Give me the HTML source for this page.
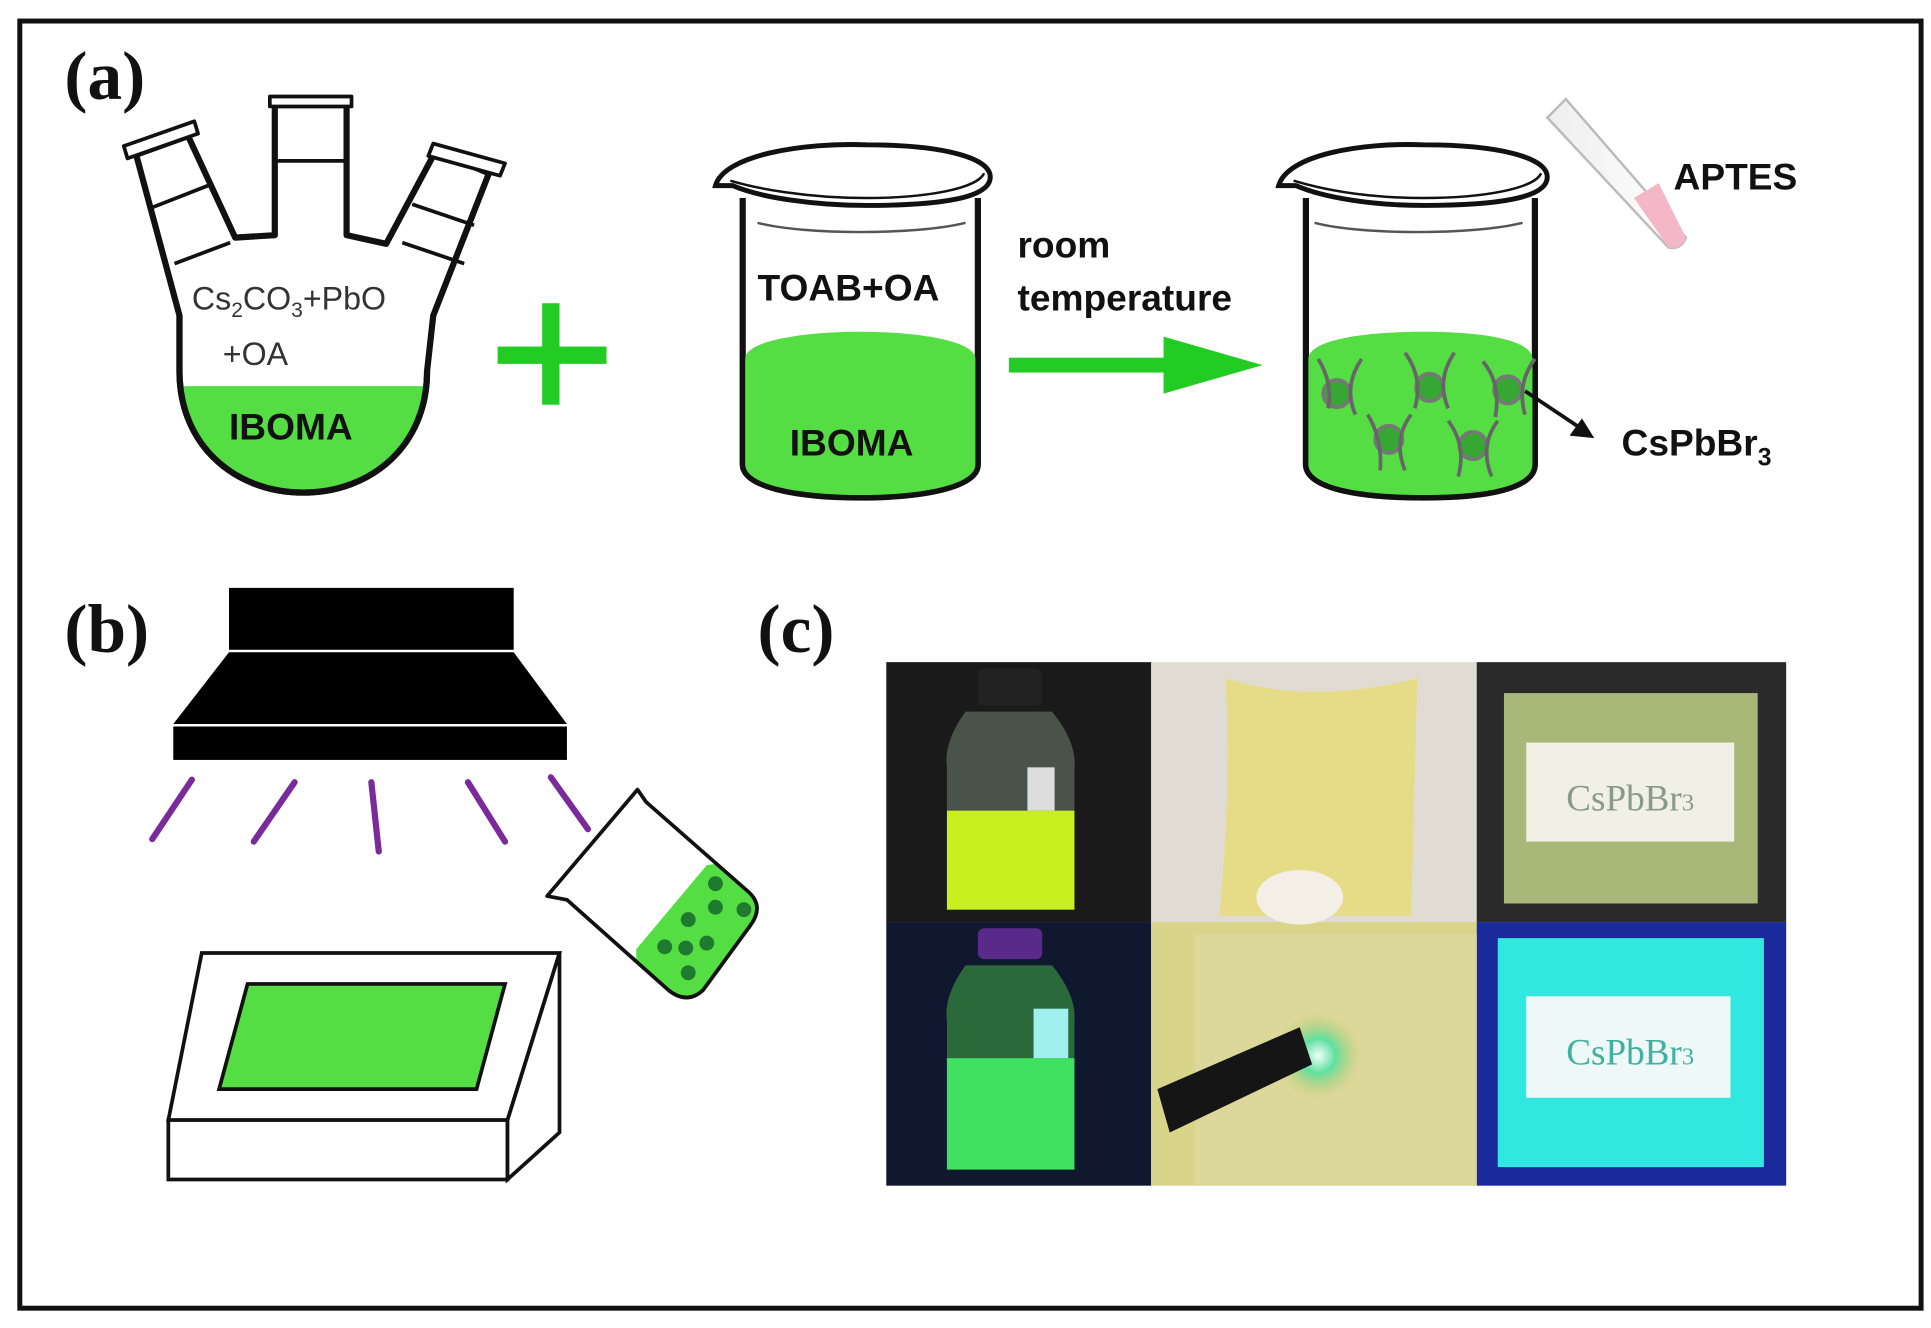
<!DOCTYPE html>
<html><head><meta charset="utf-8"><style>html,body{margin:0;padding:0;background:#fff}svg{display:block}</style></head>
<body>
<svg width="1931" height="1328" viewBox="0 0 1560 1073" preserveAspectRatio="none" xmlns="http://www.w3.org/2000/svg">
<defs>
<linearGradient id="tube" x1="0" y1="0" x2="1" y2="0"><stop offset="0" stop-color="#eee"/><stop offset="1" stop-color="#fff"/></linearGradient>
<radialGradient id="glow" cx="0.5" cy="0.5" r="0.5"><stop offset="0" stop-color="#f0fff8"/><stop offset="0.4" stop-color="#5fe0a0"/><stop offset="1" stop-color="#c8c868" stop-opacity="0"/></radialGradient>
<clipPath id="bk"><path d="M515,638 L442,724 L458,727 L540,800 Q555,812 568,800 L606,748 Q618,732 604,720 Z"/></clipPath>
</defs>
<rect x="0" y="0" width="1560" height="1073" fill="#fff"/>
<rect x="16" y="17" width="1536" height="1040" fill="none" stroke="#111" stroke-width="4"/>
<g font-family="Liberation Serif, serif" font-weight="bold" font-size="56" fill="#111">
<text x="52" y="80">(a)</text><text x="52" y="527">(b)</text><text x="612" y="527">(c)</text>
</g>
<!-- flask -->
<path d="M245,398 C190,398 145,360 145,300 L145,255 L110,125 L152,110 L190,192 L222,190 L222,85 L280,85 L280,190 L312,197 L352,122 L395,140 L350,255 L345,300 C345,360 300,398 245,398 Z" fill="#fff" stroke="#111" stroke-width="5" stroke-linejoin="round"/>
<path d="M148,312 L343,312 C343,365 300,396 245,396 C190,396 148,365 148,312 Z" fill="#55dd44"/>
<path d="M245,398 C190,398 145,360 145,300 L145,255 M345,300 C345,360 300,398 245,398" fill="none" stroke="#111" stroke-width="5"/>
<path d="M100,118 L157,98 L160,108 L103,128 Z M218,78 L284,78 L284,86 L218,86 Z M350,116 L408,132 L404,142 L346,126 Z" fill="#fff" stroke="#111" stroke-width="3" stroke-linejoin="round"/>
<path d="M222,130 L280,130 M122,168 L168,150 M333,165 L383,182 M141,213 L186,196 M325,196 L375,213" stroke="#111" stroke-width="3" fill="none"/>
<text x="155" y="250" font-family="Liberation Sans, sans-serif" font-size="26" fill="#333">Cs<tspan font-size="17" dy="6">2</tspan><tspan dy="-6">CO</tspan><tspan font-size="17" dy="6">3</tspan><tspan dy="-6">+PbO</tspan></text>
<text x="180" y="295" font-family="Liberation Sans, sans-serif" font-size="26" fill="#333">+OA</text>
<text x="185" y="355" font-family="Liberation Sans, sans-serif" font-weight="bold" font-size="30" fill="#111">IBOMA</text>
<!-- plus -->
<rect x="402" y="280" width="88" height="14" fill="#22cc22"/><rect x="438" y="245" width="14" height="82" fill="#22cc22"/>
<!-- beaker 1 -->
<path d="M600,160 L600,375 C600,395 650,402 695,402 C740,402 790,395 790,375 L790,160" fill="#fff" stroke="#111" stroke-width="5"/>
<path d="M602,290 C602,275 650,268 695,268 C740,268 788,275 788,290 L788,375 C788,393 740,400 695,400 C650,400 602,393 602,375 Z" fill="#55dd44"/>
<path d="M578,150 C585,125 650,115 700,117 C760,117 800,127 800,143 C800,160 760,166 700,166 C660,166 615,160 592,150 Q582,150 578,150 Z" fill="#fff" stroke="#111" stroke-width="4"/>
<path d="M590,146 C610,152 650,160 700,160 C750,160 790,152 795,140" stroke="#111" stroke-width="2" fill="none"/>
<path d="M612,180 C650,190 740,190 780,180" stroke="#555" stroke-width="2" fill="none"/>
<text x="612" y="243" font-family="Liberation Sans, sans-serif" font-weight="bold" font-size="30" fill="#111">TOAB+OA</text>
<text x="638" y="368" font-family="Liberation Sans, sans-serif" font-weight="bold" font-size="30" fill="#111">IBOMA</text>
<!-- arrow -->
<text x="822" y="208" font-family="Liberation Sans, sans-serif" font-weight="bold" font-size="30" fill="#111">room</text>
<text x="822" y="251" font-family="Liberation Sans, sans-serif" font-weight="bold" font-size="30" fill="#111">temperature</text>
<rect x="815" y="289" width="130" height="12" fill="#22cc22"/>
<polygon points="940,272 1020,295 940,318" fill="#22cc22"/>
<!-- beaker 2 -->
<path d="M1055,160 L1055,375 C1055,395 1100,402 1150,402 C1200,402 1240,395 1240,375 L1240,160" fill="#fff" stroke="#111" stroke-width="5"/>
<path d="M1057,290 C1057,275 1100,268 1150,268 C1200,268 1238,275 1238,290 L1238,375 C1238,393 1200,400 1150,400 C1100,400 1057,393 1057,375 Z" fill="#55dd44"/>
<path d="M1033,150 C1040,125 1100,115 1150,117 C1210,117 1250,127 1250,143 C1250,160 1210,166 1150,166 C1110,166 1070,160 1047,150 Q1037,150 1033,150 Z" fill="#fff" stroke="#111" stroke-width="4"/>
<path d="M1045,146 C1065,152 1100,160 1150,160 C1200,160 1240,152 1245,140" stroke="#111" stroke-width="2" fill="none"/>
<path d="M1062,180 C1100,190 1190,190 1230,180" stroke="#555" stroke-width="2" fill="none"/>
<g fill="#2e9a2e" stroke="#777" stroke-width="3" fill-opacity="0.8">
<circle cx="1080" cy="318" r="11"/><circle cx="1155" cy="313" r="11"/><circle cx="1218" cy="315" r="11"/><circle cx="1122" cy="355" r="11"/><circle cx="1190" cy="360" r="11"/>
</g>
<g fill="none" stroke="#666" stroke-width="3">
<path d="M1065,290 q12,20 8,40 M1100,290 q-15,22 -5,45 M1135,285 q15,20 8,45 M1175,285 q-15,22 -5,45 M1198,292 q15,18 10,45 M1240,290 q-15,20 -8,45 M1105,335 q12,20 10,45 M1140,335 q-15,20 -5,45 M1170,340 q15,20 8,45 M1210,340 q-15,20 -5,45"/>
</g>
<line x1="1232" y1="316" x2="1280" y2="348" stroke="#111" stroke-width="3"/>
<polygon points="1288,354 1268,352 1278,338" fill="#111"/>
<text x="1310" y="368" font-family="Liberation Sans, sans-serif" font-weight="bold" font-size="30" fill="#111">CsPbBr<tspan font-size="20" dy="8">3</tspan></text>
<!-- tube -->
<path d="M1250,95 L1265,80 L1362,192 Q1358,202 1348,200 Z" fill="url(#tube)" stroke="#bbb" stroke-width="2"/>
<path d="M1320,160 L1340,148 L1362,192 Q1358,202 1348,200 Z" fill="#f4b7c8"/>
<text x="1352" y="153" font-family="Liberation Sans, sans-serif" font-weight="bold" font-size="30" fill="#111">APTES</text>
<!-- lamp -->
<rect x="185" y="475" width="230" height="50" fill="#000"/>
<polygon points="185,527 415,527 458,585 140,585" fill="#000"/>
<rect x="140" y="587" width="318" height="27" fill="#000"/>
<g stroke="#7a2a9a" stroke-width="5" stroke-linecap="round">
<line x1="123" y1="678" x2="155" y2="630"/><line x1="205" y1="680" x2="238" y2="632"/><line x1="300" y1="632" x2="306" y2="688"/><line x1="378" y1="632" x2="408" y2="680"/><line x1="445" y1="628" x2="475" y2="670"/>
</g>
<!-- tray -->
<polygon points="136,905 163,770 452,770 410,905" fill="#fff" stroke="#111" stroke-width="3"/>
<rect x="136" y="905" width="274" height="48" fill="#fff" stroke="#111" stroke-width="3"/>
<polygon points="410,905 452,770 452,915 410,953" fill="#fff" stroke="#111" stroke-width="3"/>
<polygon points="177,880 200,795 408,795 385,880" fill="#55dd44" stroke="#111" stroke-width="3"/>
<!-- tilted beaker -->
<g clip-path="url(#bk)">
<polygon points="571,699 640,690 640,820 514,820 514,767" fill="#55dd44"/>
</g>
<path d="M515,638 L442,724 L458,727 L540,800 Q555,812 568,800 L606,748 Q618,732 604,720 L522,648 Z" fill="none" stroke="#111" stroke-width="3" stroke-linejoin="round"/>
<g fill="#1e7a2e"><circle cx="578" cy="714" r="6"/><circle cx="578" cy="733" r="6"/><circle cx="601" cy="735" r="6"/><circle cx="556" cy="743" r="6"/><circle cx="571" cy="762" r="6"/><circle cx="537" cy="765" r="6"/><circle cx="554" cy="766" r="6"/><circle cx="556" cy="786" r="6"/></g>
<!-- photos -->
<rect x="716" y="535" width="214" height="210" fill="#1a1a1a"/>
<rect x="930" y="535" width="263" height="210" fill="#e0dcd4"/>
<rect x="1193" y="535" width="250" height="210" fill="#2a2a2a"/>
<rect x="716" y="745" width="214" height="213" fill="#101830"/>
<rect x="930" y="745" width="263" height="213" fill="#d8d48a"/>
<rect x="1193" y="745" width="250" height="213" fill="#1a2a9a"/>
<rect x="790" y="540" width="52" height="30" rx="5" fill="#222"/>
<path d="M780,575 L850,575 Q870,600 868,620 L868,735 L765,735 L765,620 Q762,600 780,575 Z" fill="#6a7a6a" fill-opacity="0.6"/>
<rect x="765" y="655" width="103" height="80" fill="#c8f020"/>
<rect x="830" y="620" width="22" height="35" fill="#ddd"/>
<path d="M990,548 Q1060,570 1145,548 L1140,740 L985,740 Q995,640 990,548 Z" fill="#e6dc88"/>
<ellipse cx="1050" cy="725" rx="35" ry="22" fill="#f4f0e8"/>
<rect x="1215" y="560" width="205" height="170" fill="#a8b878"/>
<rect x="1233" y="600" width="168" height="80" fill="#f0f0e6"/>
<text x="1317" y="655" text-anchor="middle" font-family="Liberation Serif, serif" font-size="30" fill="#8a9a8a">CsPbBr<tspan font-size="20">3</tspan></text>
<rect x="790" y="750" width="52" height="25" rx="5" fill="#5a2a8a"/>
<path d="M780,780 L850,780 Q870,805 868,825 L868,945 L765,945 L765,825 Q762,805 780,780 Z" fill="#2a6a3a"/>
<rect x="765" y="855" width="103" height="90" fill="#40e060"/>
<rect x="835" y="815" width="28" height="40" fill="#a0f0f0"/>
<rect x="965" y="755" width="228" height="203" fill="#dcd89a"/>
<circle cx="1065" cy="853" r="35" fill="url(#glow)"/>
<path d="M935,880 L1050,830 L1060,860 L945,915 Z" fill="#151515"/>
<rect x="1210" y="758" width="215" height="185" fill="#30e8e0"/>
<rect x="1233" y="805" width="165" height="82" fill="#eef8f6"/>
<text x="1317" y="860" text-anchor="middle" font-family="Liberation Serif, serif" font-size="30" fill="#40b0a0">CsPbBr<tspan font-size="20">3</tspan></text>
</svg>
</body></html>
